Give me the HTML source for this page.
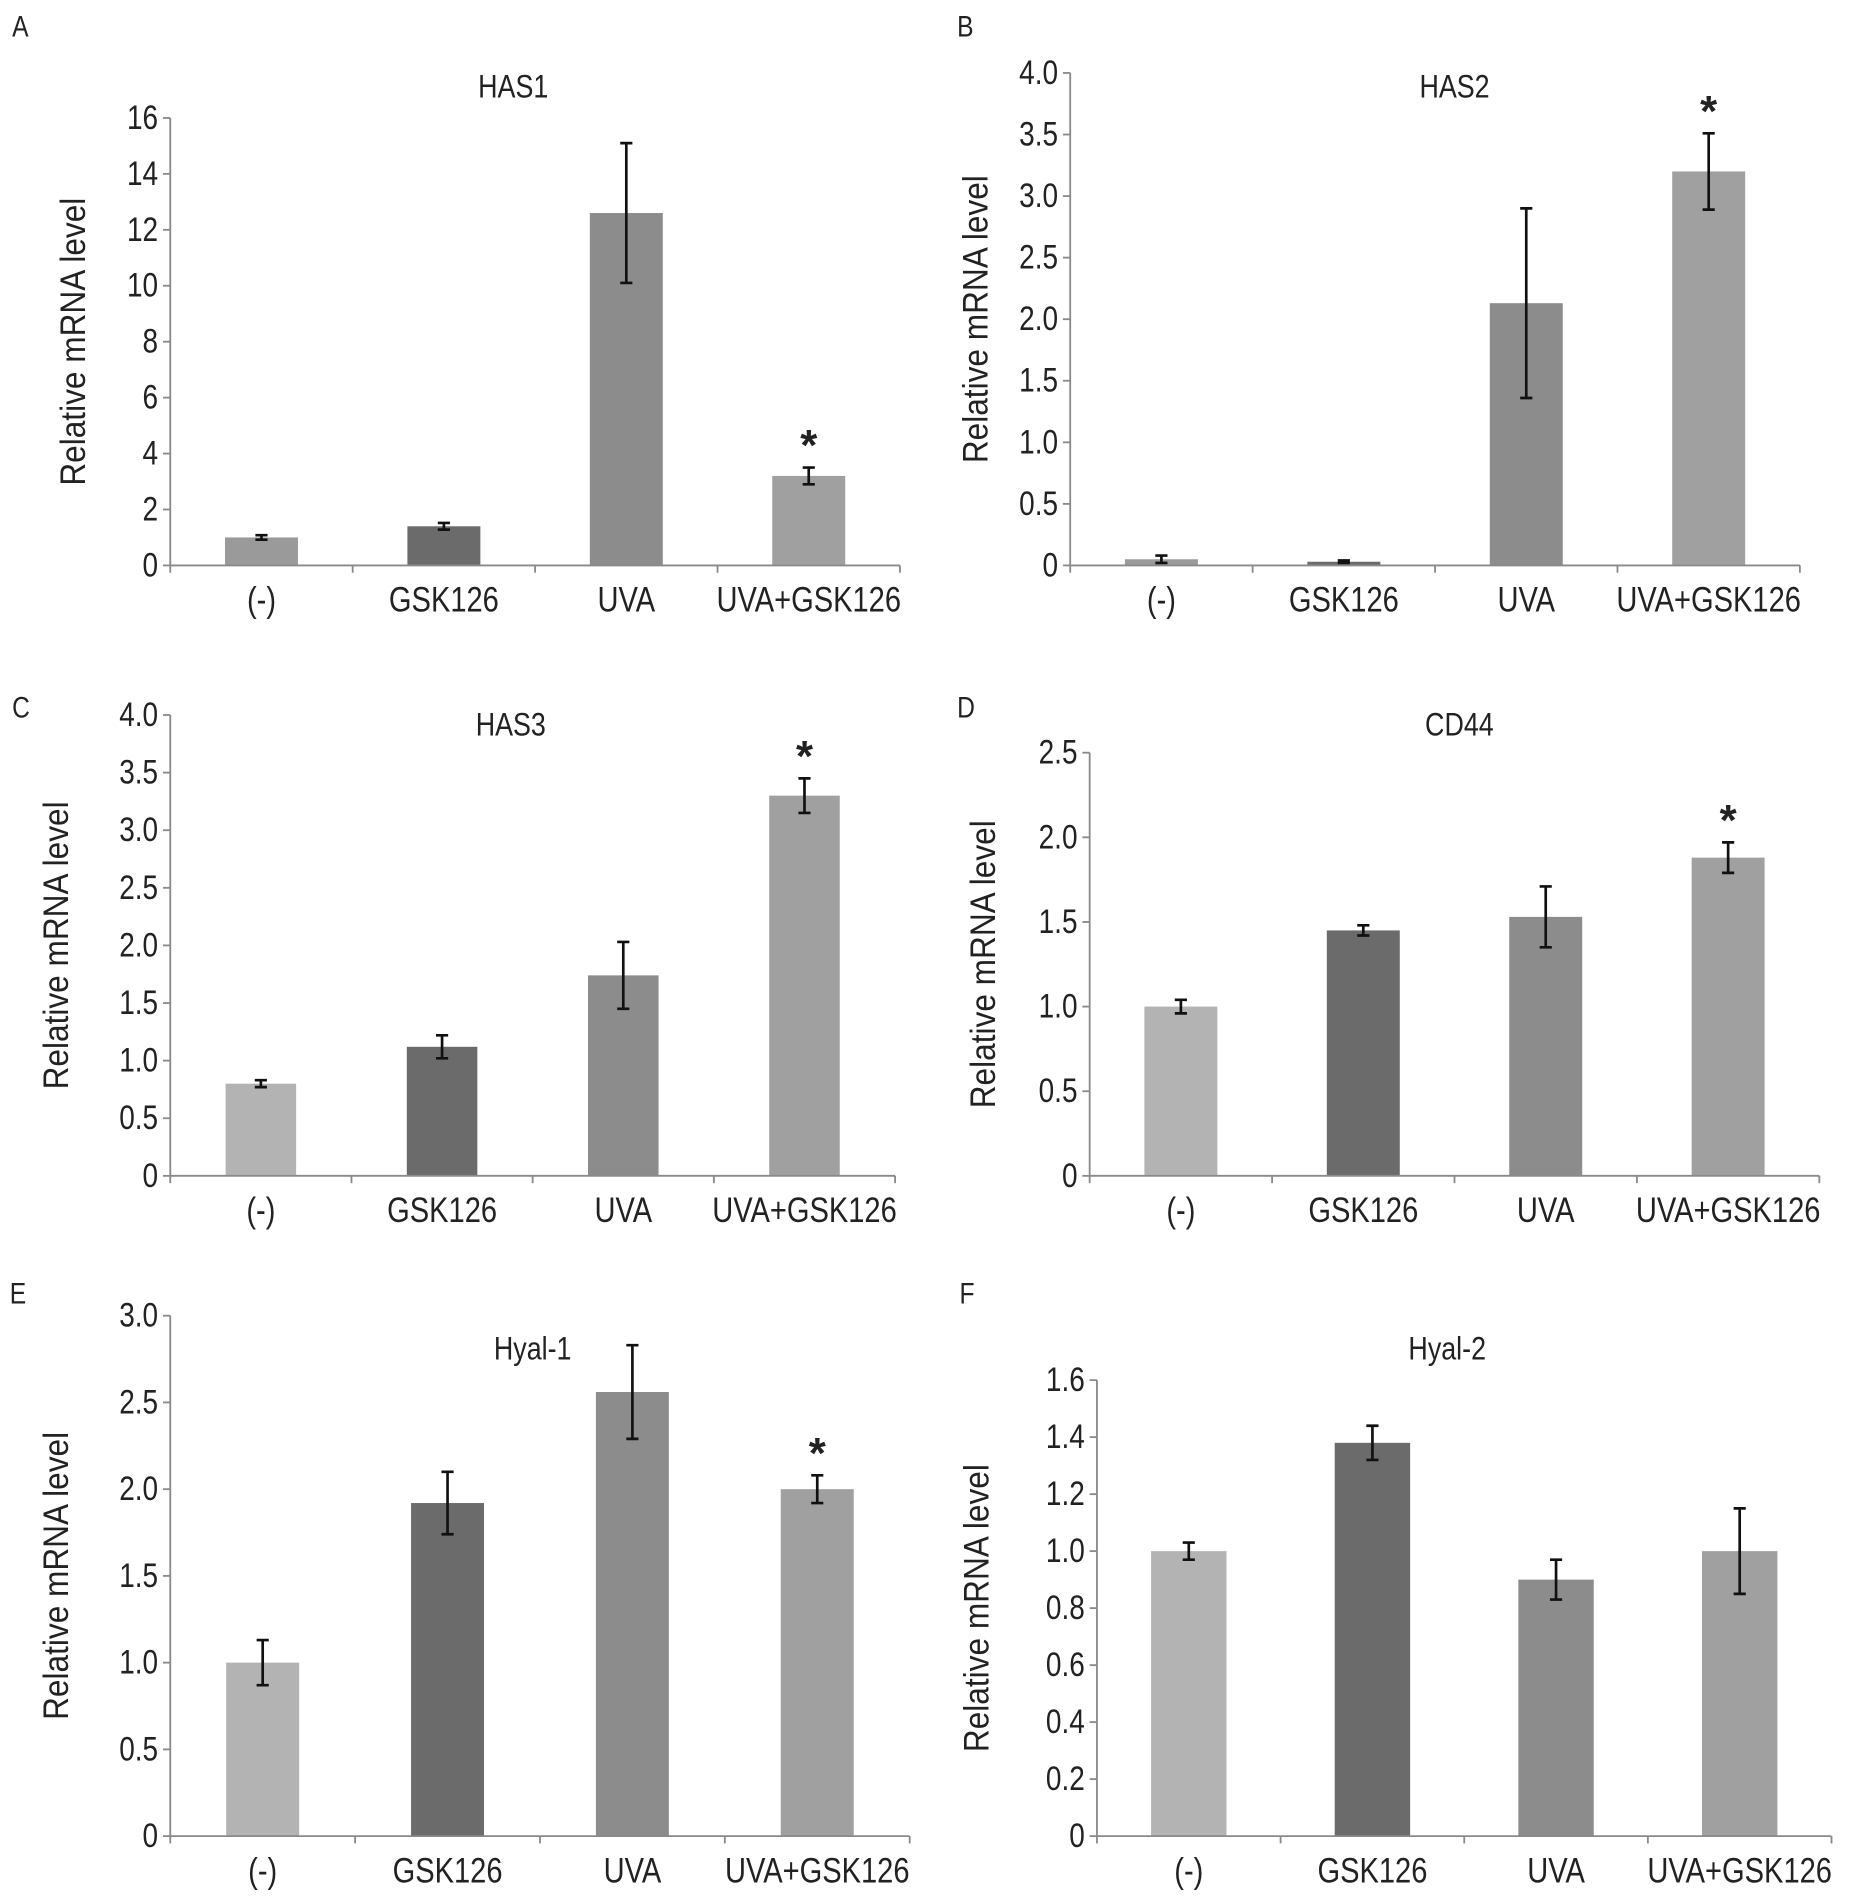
<!DOCTYPE html>
<html><head><meta charset="utf-8"><style>
html,body{margin:0;padding:0;background:#fff}
svg{display:block}
text{font-family:"Liberation Sans",Arial,sans-serif;fill:#222}
</style></head><body>
<svg id="fig" width="1868" height="1903" viewBox="0 0 1536 1565" preserveAspectRatio="none" xmlns="http://www.w3.org/2000/svg"></svg>
<script>
const categories = ["(-)", "GSK126", "UVA", "UVA+GSK126"];
const valsA = [1.0, 1.4, 12.6, 3.2];
const errA  = [0.08, 0.12, 2.5, 0.3];
const ticksA = [0, 2, 4, 6, 8, 10, 12, 14, 16];
const starA = [false, false, false, true];
const valsB = [0.05, 0.03, 2.13, 3.2];
const errB  = [0.03, 0.01, 0.77, 0.31];
const ticksB = [0, 0.5, 1.0, 1.5, 2.0, 2.5, 3.0, 3.5, 4.0];
const starB = [false, false, false, true];
const valsC = [0.8, 1.12, 1.74, 3.3];
const errC  = [0.03, 0.1, 0.29, 0.15];
const ticksC = [0, 0.5, 1.0, 1.5, 2.0, 2.5, 3.0, 3.5, 4.0];
const starC = [false, false, false, true];
const valsD = [1.0, 1.45, 1.53, 1.88];
const errD  = [0.04, 0.03, 0.18, 0.09];
const ticksD = [0, 0.5, 1.0, 1.5, 2.0, 2.5];
const starD = [false, false, false, true];
const valsE = [1.0, 1.92, 2.56, 2.0];
const errE  = [0.13, 0.18, 0.27, 0.08];
const ticksE = [0, 0.5, 1.0, 1.5, 2.0, 2.5, 3.0];
const starE = [false, false, false, true];
const valsF = [1.0, 1.38, 0.9, 1.0];
const errF  = [0.03, 0.06, 0.07, 0.15];
const ticksF = [0, 0.2, 0.4, 0.6, 0.8, 1.0, 1.2, 1.4, 1.6];
const starF = [false, false, false, false];

const NS = "http://www.w3.org/2000/svg";
const svg = document.getElementById("fig");
function mk(tag, attrs, parent) {
  const e = document.createElementNS(NS, tag);
  for (const k in attrs) e.setAttribute(k, attrs[k]);
  (parent || svg).appendChild(e);
  return e;
}
function fmt(v, dec) { return v === 0 ? "0" : v.toFixed(dec); }
// tall, slightly condensed text like the reference
function tallText(g, x, y, size, anchor, str, extra) {
  const t = mk("text", Object.assign({x: 0, y: 0, "font-size": size, "text-anchor": anchor,
    transform: "translate(" + x + "," + y + ") scale(0.92,1.12)"}, extra || {}), g);
  t.textContent = str;
  return t;
}

function panel(cfg, vals, errs, ticks, stars) {
  const g = mk("g", {});
  
  
  const ymax = ticks[ticks.length - 1];
  const yScale = v => cfg.y0 - (v / ymax) * (cfg.y0 - cfg.yTop);
  const xScale = i => cfg.x0 + cfg.step * (i + 0.5);
  const xEnd = cfg.x0 + cfg.step * categories.length;
  const axisColor = "#8a8a8a";

  const L = tallText(g, cfg.letterX, cfg.letterY, 22, "start", cfg.letter);
  
  

  const T = tallText(g, cfg.titleX, cfg.titleY, 24, "middle", cfg.title);
  
  

  const yl = mk("text", {x: 0, y: 0, "font-size": 26, "text-anchor": "middle",
    transform: "translate(" + cfg.ylabX + "," + ((cfg.y0 + cfg.yTop) / 2) + ") rotate(-90) scale(1.0,1.1)"}, g);
  yl.textContent = "Relative mRNA level";
  
  

  vals.forEach((v, i) => {
    const cx = xScale(i);
    const r = mk("rect", {x: cx - cfg.bw / 2, y: yScale(v), width: cfg.bw, height: cfg.y0 - yScale(v), fill: cfg.colors[i]}, g);
    
    
    const hi = yScale(v + errs[i]), lo = yScale(Math.max(0, v - errs[i]));
    const eb = mk("path", {d: "M" + cx + " " + hi + "V" + lo + "M" + (cx - 5) + " " + hi + "H" + (cx + 5) + "M" + (cx - 5) + " " + lo + "H" + (cx + 5),
      stroke: "#111", "stroke-width": 2.2, fill: "none"}, g);
    
    
    if (stars[i]) {
      const s = mk("text", {x: cx, y: hi - 6, "font-size": 36, "font-weight": "bold", "text-anchor": "middle"}, g);
      s.textContent = "*";
      
      
    }
    const xl = tallText(g, cx, cfg.y0 + 38, 26, "middle", categories[i]);
    
    
  });

  const ya = mk("line", {x1: cfg.x0, x2: cfg.x0, y1: cfg.yTop, y2: cfg.y0, stroke: axisColor, "stroke-width": 1.5}, g);
  
  
  const xa = mk("line", {x1: cfg.x0, x2: xEnd, y1: cfg.y0, y2: cfg.y0, stroke: axisColor, "stroke-width": 1.5}, g);
  
  
  for (let i = 0; i <= categories.length; i++) {
    const tx = cfg.x0 + cfg.step * i;
    mk("line", {x1: tx, x2: tx, y1: cfg.y0, y2: cfg.y0 + 6, stroke: axisColor, "stroke-width": 1.5}, g);
  }
  ticks.forEach(t => {
    const ty = yScale(t);
    mk("line", {x1: cfg.x0 - 6, x2: cfg.x0, y1: ty, y2: ty, stroke: axisColor, "stroke-width": 1.5}, g);
    const tl = tallText(g, cfg.x0 - 10, ty + 9, 25, "end", fmt(t, cfg.dec));
    
    
  });
}

const light = "#b3b3b3", dark = "#6b6b6b", mid = "#8c8c8c", mid2 = "#a0a0a0";
panel({letter: "A", letterX: 10, letterY: 30, title: "HAS1", titleX: 422, titleY: 80, x0: 140, y0: 465, yTop: 97, step: 150, bw: 60, ylabX: 70, dec: 0,
  colors: ["#9a9a9a", dark, mid, mid2]}, valsA, errA, ticksA, starA);
panel({letter: "B", letterX: 787, letterY: 30, title: "HAS2", titleX: 1196, titleY: 80, x0: 880, y0: 465, yTop: 60, step: 150, bw: 60, ylabX: 812, dec: 1,
  colors: ["#9a9a9a", dark, mid, mid2]}, valsB, errB, ticksB, starB);
panel({letter: "C", letterX: 10, letterY: 590, title: "HAS3", titleX: 420, titleY: 605, x0: 140, y0: 967, yTop: 588, step: 149, bw: 58, ylabX: 56, dec: 1,
  colors: [light, dark, mid, mid2]}, valsC, errC, ticksC, starC);
panel({letter: "D", letterX: 787, letterY: 590, title: "CD44", titleX: 1200, titleY: 605, x0: 896, y0: 967, yTop: 619, step: 150, bw: 60, ylabX: 818, dec: 1,
  colors: [light, dark, mid, mid2]}, valsD, errD, ticksD, starD);
panel({letter: "E", letterX: 8, letterY: 1072, title: "Hyal-1", titleX: 438, titleY: 1118, x0: 140, y0: 1510, yTop: 1082, step: 152, bw: 60, ylabX: 56, dec: 1,
  colors: [light, dark, mid, mid2]}, valsE, errE, ticksE, starE);
panel({letter: "F", letterX: 789, letterY: 1072, title: "Hyal-2", titleX: 1190, titleY: 1118, x0: 902, y0: 1510, yTop: 1135, step: 151, bw: 62, ylabX: 813, dec: 1,
  colors: [light, dark, mid, mid2]}, valsF, errF, ticksF, starF);
</script>
</body></html>
